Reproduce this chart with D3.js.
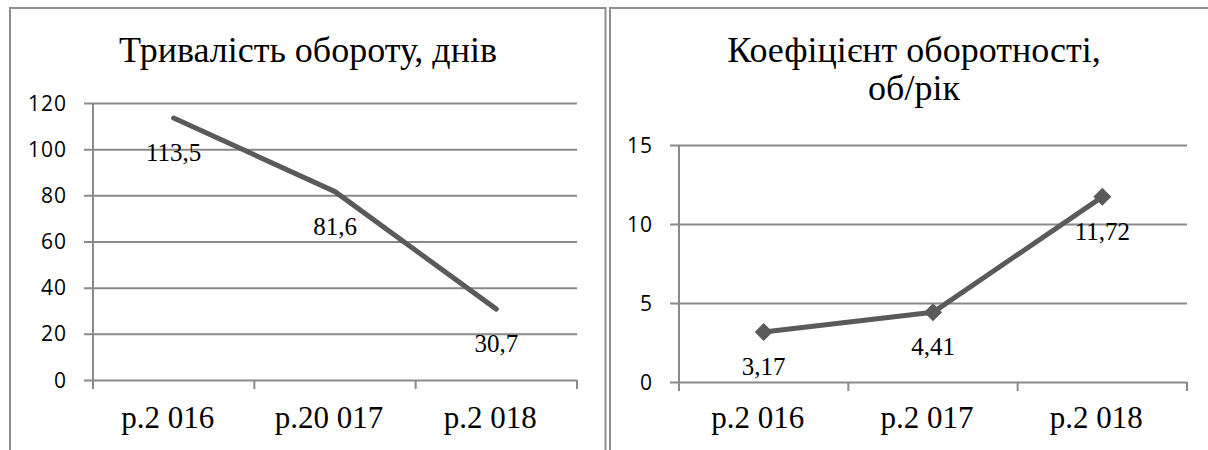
<!DOCTYPE html>
<html>
<head>
<meta charset="utf-8">
<script src="https://cdnjs.cloudflare.com/ajax/libs/d3/7.8.5/d3.min.js"></script>
</head>
<body style="margin:0">
<script>
// Data
var categoriesLeft = ["р.2 016", "р.20 017", "р.2 018"];
var valuesLeft = [113.5, 81.6, 30.7];
var labelsLeft = ["113,5", "81,6", "30,7"];
var ticksLeft = [0, 20, 40, 60, 80, 100, 120];

var categoriesRight = ["р.2 016", "р.2 017", "р.2 018"];
var valuesRight = [3.17, 4.41, 11.72];
var labelsRight = ["3,17", "4,41", "11,72"];
var ticksRight = [0, 5, 10, 15];

var width = 1208, height = 450;
var gridColor = "#8a8a8a", lineColor = "#5a5a5a";
var serifFont = "Liberation Serif", sansFont = "Open Sans";

var svg = d3.select("body")
    .append("svg")
    .attr("width", width)
    .attr("height", height);

// text helper: forces the font family
function addText(family, size) {
    return svg.append("text")
        .attr("font-family", family)
        .attr("font-size", size)
        .style("font-family", family, "important")
        .style("font-size", size + "px", "important");
}

// Draws one framed line chart
function drawChart(opts) {
    var g = svg.append("g");

    // frame
    g.append("rect")
        .attr("x", opts.frame[0])
        .attr("y", opts.frame[1])
        .attr("width", opts.frame[2])
        .attr("height", opts.frame[3])
        .attr("fill", "none")
        .attr("stroke", "#8e8e8e")
        .attr("stroke-width", 2);

    // title
    opts.title.forEach(function(line, i) {
        addText(serifFont, 36)
            .attr("x", opts.titleX)
            .attr("y", 62 + i * 38)
            .attr("text-anchor", "middle")
            .text(line);
    });

    var x = d3.scaleBand().domain(opts.categories).range([opts.left, opts.right]);
    var y = d3.scaleLinear().domain(opts.domain).range([opts.bottom, opts.top]);

    // horizontal gridlines with outward tick
    g.append("g")
        .attr("transform", "translate(" + opts.left + ",0)")
        .call(d3.axisLeft(y).tickValues(opts.ticks).tickSize(-(opts.right - opts.left)).tickPadding(0).tickFormat(""))
        .call(function(s) { s.select(".domain").remove(); })
        .selectAll("line")
        .attr("x1", -9)
        .attr("stroke", gridColor)
        .attr("stroke-width", 2);

    // y tick labels
    opts.ticks.forEach(function(t) {
        addText(sansFont, 21)
            .attr("letter-spacing", 1)
            .attr("x", opts.left - 26)
            .attr("y", y(t) + 7.5)
            .attr("text-anchor", "end")
            .text(t);
    });

    // vertical axis line
    g.append("line")
        .attr("x1", opts.left).attr("x2", opts.left)
        .attr("y1", opts.top).attr("y2", opts.bottom + 9)
        .attr("stroke", gridColor)
        .attr("stroke-width", 2);

    // x axis category boundary ticks
    var bounds = opts.categories.map(c => x(c)).concat([opts.right]);
    bounds.slice(1).forEach(function(b) {
        g.append("line")
            .attr("x1", b).attr("x2", b)
            .attr("y1", opts.bottom).attr("y2", opts.bottom + 9)
            .attr("stroke", gridColor)
            .attr("stroke-width", 2);
    });

    // x labels
    opts.categories.forEach(function(c) {
        addText(serifFont, 31)
            .attr("x", x(c) + x.bandwidth() / 2 - 6)
            .attr("y", 428)
            .attr("text-anchor", "middle")
            .text(c);
    });

    var pts = opts.categories.map((c, i) => [x(c) + x.bandwidth() / 2, y(opts.values[i])]);

    // series line
    g.append("path")
        .datum(pts)
        .attr("d", d3.line())
        .attr("fill", "none")
        .attr("stroke", lineColor)
        .attr("stroke-width", 5)
        .attr("stroke-linecap", "round")
        .attr("stroke-linejoin", "round");

    // diamond markers
    if (opts.markers) {
        pts.forEach(function(p) {
            g.append("path")
                .attr("d", d3.symbol(d3.symbolSquare, 162)())
                .attr("transform", "translate(" + p[0] + "," + p[1] + ") rotate(45)")
                .attr("fill", lineColor);
        });
    }

    // data labels
    pts.forEach(function(p, i) {
        addText(serifFont, 25)
            .attr("x", p[0])
            .attr("y", p[1] + 43)
            .attr("text-anchor", "middle")
            .text(opts.labels[i]);
    });
}

drawChart({
    frame: [10, 8, 595.5, 460],
    title: ["Тривалість обороту, днів"],
    titleX: 308,
    categories: categoriesLeft,
    values: valuesLeft,
    labels: labelsLeft,
    ticks: ticksLeft,
    domain: [0, 120],
    left: 93, right: 577, top: 103, bottom: 380,
    markers: false
});

drawChart({
    frame: [610, 8, 620, 460],
    title: ["Коефіцієнт оборотності,", "об/рік"],
    titleX: 914,
    categories: categoriesRight,
    values: valuesRight,
    labels: labelsRight,
    ticks: ticksRight,
    domain: [0, 15],
    left: 679, right: 1187, top: 145, bottom: 382,
    markers: true
});
</script>
</body>
</html>
